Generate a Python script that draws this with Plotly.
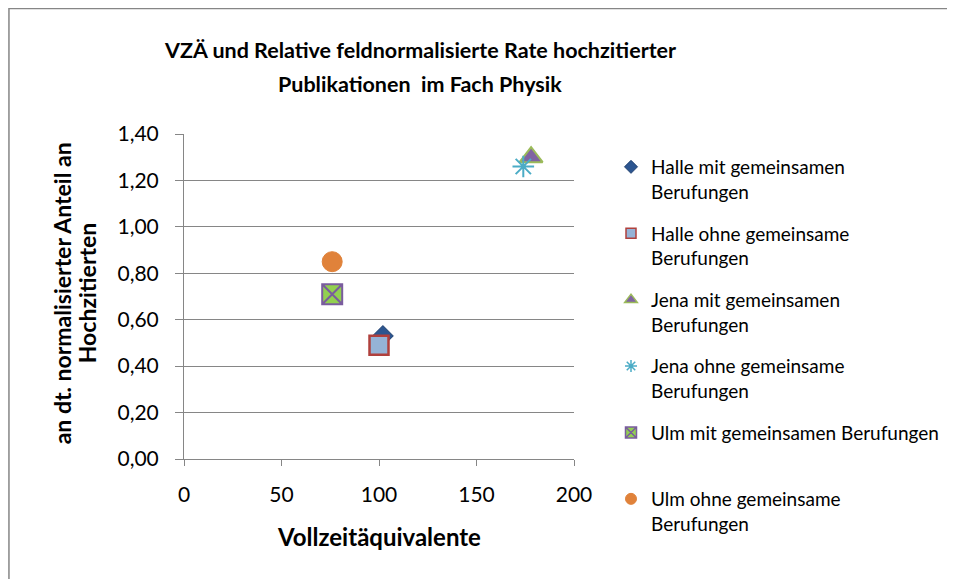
import plotly.graph_objects as go

# Data
series_names = [
    "Halle mit gemeinsamen<br>Berufungen",
    "Halle ohne gemeinsame<br>Berufungen",
    "Jena mit gemeinsamen<br>Berufungen",
    "Jena ohne gemeinsame<br>Berufungen",
    "Ulm mit gemeinsamen Berufungen<br> ",
    "Ulm ohne gemeinsame<br>Berufungen",
]
vza = [102, 100, 178, 174, 76, 76]
rate = [0.53, 0.49, 1.30, 1.26, 0.71, 0.85]

x_ticks = [0, 50, 100, 150, 200]
y_ticks = [0.0, 0.2, 0.4, 0.6, 0.8, 1.0, 1.2, 1.4]

styles = [
    dict(symbol="diamond", size=16, color="#2C5590", line=dict(color="#1F3F6E", width=1), lsize=10),
    dict(symbol="square", size=19, color="#95B3D7", line=dict(color="#B0403D", width=2.5), lsize=10),
    dict(symbol="triangle-up", size=20, color="#8064A2", line=dict(color="#9BBB59", width=2), lsize=11),
    dict(symbol="asterisk-open", size=18, color="#4BACC6", line=dict(color="#4BACC6", width=2), lsize=10),
    dict(symbol="square-x", size=20, color="#92D050", line=dict(color="#7A5C9E", width=2), lsize=11),
    dict(symbol="circle", size=20, color="#E0823A", line=dict(color="#E0823A", width=1), lsize=11),
]

FONT = "Lato, 'Open Sans', sans-serif"

# page offset caused by default body margin (8px)
OFF = 8
W, H = 955 - OFF, 579 - OFF
# plot area in page pixels
PL, PR, PT, PB = 184, 575, 134, 459
ml, mr, mt, mb = PL - OFF, W - (PR - OFF), PT - OFF, H - (PB - OFF)
pw, ph = PR - PL, PB - PT


def xp(px):
    return (px - PL) / pw


def yp(py):
    return (PB - py) / ph


fig = go.Figure()
for i, name in enumerate(series_names):
    st = styles[i]
    fig.add_trace(go.Scatter(
        x=[vza[i]], y=[rate[i]], mode="markers", name=name,
        showlegend=False,
        marker=dict(symbol=st["symbol"], size=st["size"], color=st["color"], line=st["line"]),
    ))
# legend entries with small symbols
for i, name in enumerate(series_names):
    st = styles[i]
    lw = min(st["line"]["width"], 1.5)
    fig.add_trace(go.Scatter(
        x=[None], y=[None], mode="markers", name=name,
        legendgroup=f"g{i}", showlegend=True,
        marker=dict(symbol=st["symbol"], size=st["lsize"], color=st["color"],
                    line=dict(color=st["line"]["color"], width=lw)),
    ))

fig.update_layout(
    width=W, height=H,
    margin=dict(l=ml, r=mr, t=mt, b=mb),
    paper_bgcolor="white", plot_bgcolor="white",
    separators=",.",
    font=dict(family=FONT, color="black"),
    xaxis=dict(
        range=[0, 200], tickvals=x_ticks, showgrid=False, zeroline=False,
        showline=True, linecolor="#868686", linewidth=1,
        ticks="outside", ticklen=6, tickcolor="#868686",
        tickfont=dict(size=21), ticklabelstandoff=11, fixedrange=True,
    ),
    yaxis=dict(
        range=[0, 1.4], tickvals=y_ticks, tickformat=".2f",
        showgrid=True, gridcolor="#868686", gridwidth=1, zeroline=False,
        showline=True, linecolor="#868686", linewidth=1,
        ticks="outside", ticklen=8, tickcolor="#868686",
        tickfont=dict(size=21), ticklabelstandoff=12, fixedrange=True,
    ),
    legend=dict(
        x=xp(611), xanchor="left", y=yp(148), yanchor="top",
        font=dict(size=19, family=FONT), valign="top",
        tracegroupgap=14, bgcolor="rgba(0,0,0,0)", itemwidth=30,
        maxheight=600,
    ),
    showlegend=True,
)

# title (two lines placed separately)
for txt, py in [("VZÄ und Relative feldnormalisierte Rate hochzitierter", 50),
                ("Publikationen  im Fach Physik", 84)]:
    fig.add_annotation(
        text=f"<b>{txt}</b>", xref="paper", yref="paper",
        x=xp(421), y=yp(py), showarrow=False,
        xanchor="center", yanchor="middle",
        font=dict(size=21.5, family=FONT),
    )

# y-axis title (two lines)
for txt, px in [("an dt. normalisierter Anteil an", 62), ("Hochzitierten", 87)]:
    fig.add_annotation(
        text=f"<b>{txt}</b>", xref="paper", yref="paper",
        x=xp(px), y=yp(293), textangle=-90, showarrow=False,
        xanchor="center", yanchor="middle",
        font=dict(size=23, family=FONT),
    )

fig.add_annotation(
    text="<b>Vollzeitäquivalente</b>",
    xref="paper", yref="paper", x=xp(379), y=yp(536),
    showarrow=False, xanchor="center", yanchor="middle",
    font=dict(size=24, family=FONT),
)

# chart-area border
fig.add_shape(
    type="rect", xref="paper", yref="paper",
    x0=xp(OFF + 0.5), x1=xp(951),
    y0=yp(600), y1=yp(OFF + 0.5),
    line=dict(color="#868686", width=1.5), fillcolor="rgba(0,0,0,0)", layer="below",
)

fig.write_html("out.html")
